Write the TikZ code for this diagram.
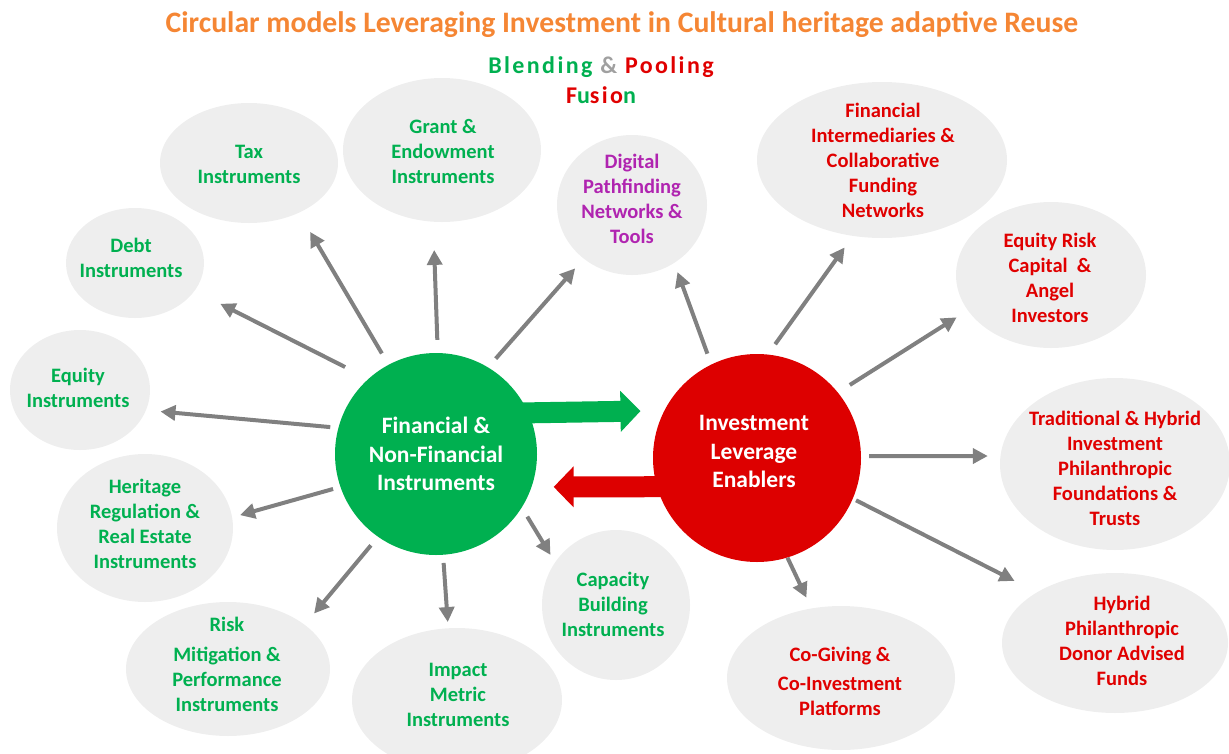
\documentclass[tikz,border=0pt]{standalone}
\usepackage{fontspec}
\setmainfont{Carlito}
\newfontfamily\widefont[LetterSpace=10]{Carlito}
\usetikzlibrary{arrows.meta,shapes.geometric}
\definecolor{ttl}{RGB}{245,134,52}
\definecolor{grn}{RGB}{0,176,80}
\definecolor{rd}{RGB}{224,0,0}
\definecolor{rdfill}{RGB}{221,0,0}
\definecolor{prp}{RGB}{176,36,176}
\definecolor{bubgray}{RGB}{238,238,238}
\definecolor{arrgray}{RGB}{128,128,128}
\definecolor{ampgray}{RGB}{160,160,160}
\begin{document}
\begin{tikzpicture}[x=1pt,y=-1pt,
  bubble/.style={ellipse, fill=bubgray, inner sep=0pt},
  lbl/.style={align=center, font=\bfseries\fontsize{20.5}{25}\selectfont},
  gl/.style={lbl, text=grn},
  rl/.style={lbl, text=rd},
  hub/.style={circle, inner sep=0pt, minimum size=#1, align=center, text=white,
    font=\bfseries\fontsize{23.5}{28.5}\selectfont},
  arr/.style={draw=arrgray, line width=4pt, -{Triangle[length=15pt,width=15pt]}},
  fat/.style={line width=21pt, -{Triangle[length=20pt,width=40pt]}}
]
\useasboundingbox (0,0) rectangle (1229,753);

% headings
\node (title) at (622,25) {\bfseries\fontsize{29.7}{32}\selectfont\color{ttl}Circular models Leveraging Investment in Cultural heritage adaptive Reuse};
\node (blend) at (601,67) {\widefont\bfseries\fontsize{24}{28}\selectfont\textcolor{grn}{Blending} \textcolor{ampgray}{\&} \textcolor{rd}{Pooling}};
\node (fusion) at (601,95) {\widefont\bfseries\fontsize{24}{28}\selectfont\textcolor{rd}{F}\textcolor{grn}{u}\textcolor{rd}{sio}\textcolor{grn}{n}};

% grey bubbles
\node[bubble, minimum width=178, minimum height=120] (tax) at (249,163) {};
\node[bubble, minimum width=198, minimum height=144] (grant) at (442,150) {};
\node[bubble, minimum width=150, minimum height=140] (digital) at (632,205) {};
\node[bubble, minimum width=138, minimum height=110] (debt) at (135,263) {};
\node[bubble, minimum width=140, minimum height=120] (equity) at (80,390) {};
\node[bubble, minimum width=176, minimum height=148] (heritage) at (145,528) {};
\node[bubble, minimum width=204, minimum height=134] (risk) at (228,669) {};
\node[bubble, minimum width=210, minimum height=144] (impact) at (457,700) {};
\node[bubble, minimum width=148, minimum height=150] (capacity) at (616,605) {};
\node[bubble, minimum width=250, minimum height=156] (finint) at (882,160) {};
\node[bubble, minimum width=190, minimum height=146] (eqrisk) at (1051,275) {};
\node[bubble, minimum width=230, minimum height=172] (trad) at (1115,464) {};
\node[bubble, minimum width=226, minimum height=140] (hybrid) at (1115,643) {};
\node[bubble, minimum width=228, minimum height=144] (cogive) at (841,678) {};

% bubble texts
\node[gl] (tax-t) at (249,164) {Tax\\Instruments};
\node[gl] (grant-t) at (443,151) {Grant \&\\Endowment\\Instruments};
\node[lbl, text=prp] (digital-t) at (632,199) {Digital\\Pathfinding\\Networks \&\\Tools};
\node[gl] (debt-t) at (131,258) {Debt\\Instruments};
\node[gl] (equity-t) at (78,388) {Equity\\Instruments};
\node[gl] (heritage-t) at (145,524) {Heritage\\Regulation \&\\Real Estate\\Instruments};
\node[gl] (risk-t) at (227,664) {Risk\\[5pt]Mitigation \&\\Performance\\Instruments};
\node[gl] (impact-t) at (458,695) {Impact\\Metric\\Instruments};
\node[gl] (capacity-t) at (613,604) {Capacity\\Building\\Instruments};
\node[rl] (finint-t) at (883,160) {Financial\\Intermediaries \&\\Collaborative\\Funding\\Networks};
\node[rl] (eqrisk-t) at (1050,278) {Equity Risk\\Capital~~\&\\Angel\\Investors};
\node[rl] (trad-t) at (1115,468) {Traditional \& Hybrid\\Investment\\Philanthropic\\Foundations \&\\Trusts};
\node[rl] (hybrid-t) at (1122,641) {Hybrid\\Philanthropic\\Donor Advised\\Funds};
\node[rl] (cogive-t) at (840,681) {Co-Giving \&\\[4pt]Co-Investment\\Platforms};

% the two hubs and the flows between them
\node[hub=202] (green) at (436,454) {};
\node[hub=208] (red) at (757,458) {};
\draw[fat, draw=grn, fill=grn, shorten <=-12pt, shorten >=23.7pt] (green.24.6) -- (red.153.8);
\draw[fat, draw=rdfill, fill=rdfill, shorten <=-12pt, shorten >=22pt] (red.196.8) -- (green.-19.7);
\node[hub=202, fill=grn] at (green) {Financial \&\\Non-Financial\\Instruments};
\node[hub=208, fill=rdfill] at (red) {};
\node[hub=10, font=\bfseries\fontsize{23.5}{28.5}\selectfont] (red-t) at (754,451.5) {Investment\\Leverage\\Enablers};

% spokes from the instruments hub
\draw[arr, shorten <=13pt, shorten >=22pt] (green.118.8) -- (tax.-45);
\draw[arr, shorten <=13pt, shorten >=28pt] (green.89) -- (grant.-97.3);
\draw[arr, shorten <=11.5pt, shorten >=12.8pt] (green.59.6) -- (digital.-132);
\draw[arr, shorten <=26pt, shorten >=28.6pt] (green.132.5) -- (debt.-25.9);
\draw[arr, shorten <=8pt, shorten >=14.4pt] (green.165.7) -- (equity.-17.5);
\draw[arr, shorten <=7.5pt, shorten >=8pt] (green.199.9) -- (heritage.7.9);
\draw[arr, shorten <=11pt, shorten >=14.5pt] (green.-125.9) -- (risk.30.7);
\draw[arr, shorten <=8pt, shorten >=6pt] (green.-86.3) -- (impact.97.6);
\draw[arr, shorten <=10.5pt, shorten >=8.6pt] (green.-32.6) -- (capacity.145.3);

% spokes from the enablers hub
\draw[arr, shorten <=11.4pt, shorten >=9.5pt] (red.116.8) -- (digital.-54.1);
\draw[arr, shorten <=12.5pt, shorten >=14pt] (red.84.6) -- (finint.-111.7);
\draw[arr, shorten <=14pt, shorten >=13pt] (red.39.5) -- (eqrisk.203.6);
\draw[arr, shorten <=8pt, shorten >=12.5pt] (red.1) -- (trad.176);
\draw[arr, shorten <=3.5pt, shorten >=25pt] (red.-23) -- (hybrid.147.3);
\draw[arr, shorten <=0pt, shorten >=11.7pt] (red.-73.9) -- (cogive.113.3);
\end{tikzpicture}
\end{document}
